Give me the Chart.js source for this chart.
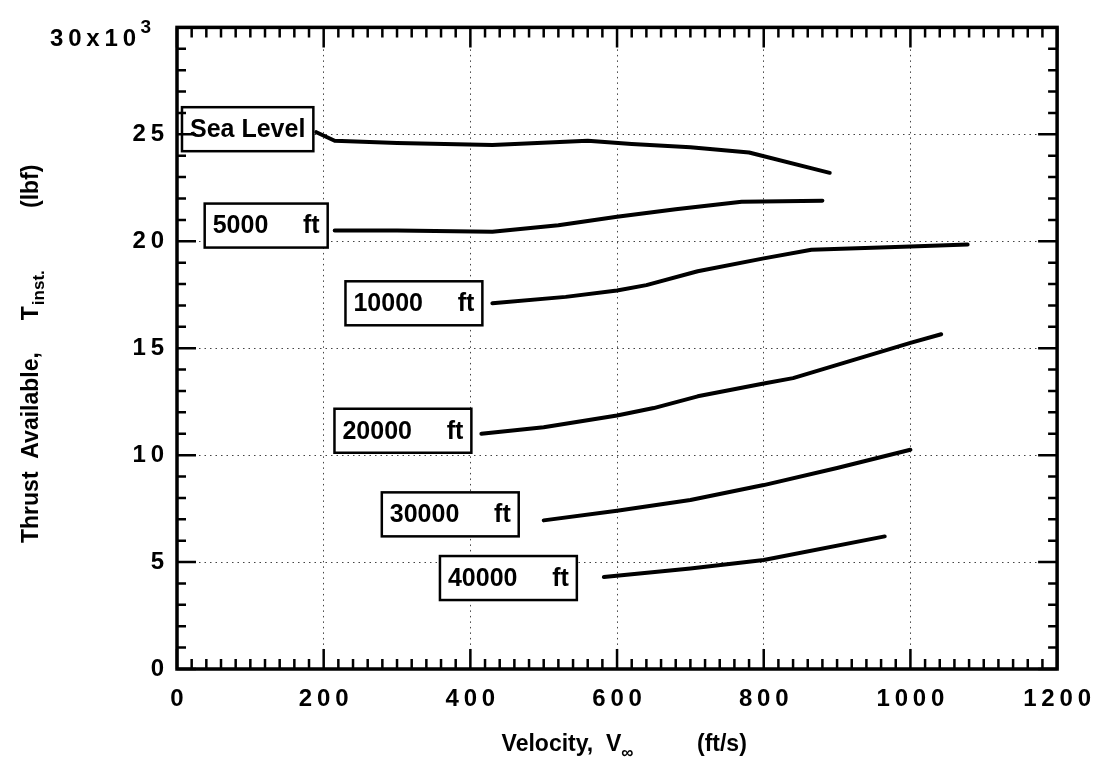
<!DOCTYPE html>
<html>
<head>
<meta charset="utf-8">
<script src="https://cdn.jsdelivr.net/npm/chart.js@4.4.0/dist/chart.umd.min.js"></script>
<style>
  html, body { margin: 0; padding: 0; background: #fff; }
</style>
</head>
<body>
<canvas id="myChart" width="1107" height="772"></canvas>
<script>
const myChartElement = document.getElementById('myChart');

// velocity (ft/s) and thrust (lbf)
const altitudeLabels = ['Sea Level', '5000     ft', '10000     ft', '20000     ft', '30000     ft', '40000     ft'];

const velSeaLevel = [190, 215, 300, 430, 560, 620, 700, 780, 890];
const thrSeaLevel = [25100, 24700, 24600, 24500, 24700, 24550, 24400, 24150, 23200];

const vel5000 = [215, 300, 430, 520, 600, 680, 770, 880];
const thr5000 = [20500, 20500, 20450, 20750, 21150, 21500, 21850, 21900];

const vel10000 = [430, 530, 600, 640, 710, 800, 865, 1000, 1078];
const thr10000 = [17100, 17400, 17700, 17950, 18600, 19200, 19600, 19750, 19850];

const vel20000 = [415, 500, 600, 650, 710, 800, 840, 1000, 1042];
const thr20000 = [11000, 11300, 11850, 12200, 12750, 13350, 13600, 15250, 15650];

const vel30000 = [500, 600, 700, 800, 900, 1000];
const thr30000 = [6950, 7400, 7900, 8600, 9400, 10250];

const vel40000 = [582, 700, 800, 965];
const thr40000 = [4300, 4700, 5100, 6200];

const xTicks = [0, 200, 400, 600, 800, 1000, 1200];
const yTicks = [0, 5000, 10000, 15000, 20000, 25000, 30000];

// label box offset from the start of each curve
const labelGap = [3, 7, 10, 10, 25, 27];
const labelDy = [-3, -5, 0, -3, -6, 1];

const FONT = '"Liberation Sans", Arial, sans-serif';

function toPoints(xs, ys) {
  return xs.map((x, i) => ({ x: x, y: ys[i] }));
}

function spaced(s) {
  return String(s).split('').join('\u2009');
}

const seriesList = [
  toPoints(velSeaLevel, thrSeaLevel),
  toPoints(vel5000, thr5000),
  toPoints(vel10000, thr10000),
  toPoints(vel20000, thr20000),
  toPoints(vel30000, thr30000),
  toPoints(vel40000, thr40000)
];

let myDatasets = seriesList.map((pts, i) => ({
  label: altitudeLabels[i],
  data: pts,
  borderColor: '#000',
  borderWidth: 4,
  borderCapStyle: 'round',
  borderJoinStyle: 'round',
  tension: 0,
  pointRadius: 0,
  fill: false
}));

// boxed altitude labels, placed left of each curve's first point
const boxLabels = {
  id: 'boxLabels',
  afterDatasetsDraw(chart) {
    const ctx = chart.ctx;
    ctx.save();
    ctx.font = 'bold 25px ' + FONT;
    ctx.textBaseline = 'middle';
    chart.data.datasets.forEach((ds, i) => {
      const p = chart.getDatasetMeta(i).data[0];
      const w = ctx.measureText(ds.label).width + 16;
      const h = 44;
      const right = p.x - labelGap[i];
      const cy = p.y + labelDy[i];
      ctx.fillStyle = '#fff';
      ctx.fillRect(right - w, cy - h / 2, w, h);
      ctx.lineWidth = 2.5;
      ctx.strokeStyle = '#000';
      ctx.strokeRect(right - w, cy - h / 2, w, h);
      ctx.fillStyle = '#000';
      ctx.textAlign = 'center';
      ctx.fillText(ds.label, right - w / 2, cy + 1);
    });
    ctx.restore();
  }
};

// frame, inward tick marks on all four sides, and the 30x10^3 label
const frameTicks = {
  id: 'frameTicks',
  afterDraw(chart) {
    const ctx = chart.ctx;
    const a = chart.chartArea;
    const xs = chart.scales.x;
    const ys = chart.scales.y;
    ctx.save();
    ctx.strokeStyle = '#000';
    ctx.lineWidth = 2.5;
    ctx.beginPath();
    for (let v = 0; v <= 1200; v += 20) {
      const px = xs.getPixelForValue(v);
      const len = v % 200 === 0 ? 20 : 10;
      ctx.moveTo(px, a.bottom); ctx.lineTo(px, a.bottom - len);
      ctx.moveTo(px, a.top); ctx.lineTo(px, a.top + len);
    }
    for (let v = 0; v <= 30000; v += 1000) {
      const py = ys.getPixelForValue(v);
      const len = v % 5000 === 0 ? 19 : 9;
      ctx.moveTo(a.left, py); ctx.lineTo(a.left + len, py);
      ctx.moveTo(a.right, py); ctx.lineTo(a.right - len, py);
    }
    ctx.stroke();
    ctx.lineWidth = 3.5;
    ctx.strokeRect(a.left, a.top, a.right - a.left, a.bottom - a.top);

    // top tick label with superscript exponent
    const ty = ys.getPixelForValue(30000);
    ctx.fillStyle = '#000';
    ctx.textBaseline = 'alphabetic';
    ctx.textAlign = 'right';
    ctx.font = 'bold 19px ' + FONT;
    ctx.fillText('3', 151, ty + 6);
    ctx.font = 'bold 24px ' + FONT;
    ctx.fillText(spaced('30x10'), 136, ty + 19);
    ctx.restore();
  }
};

// axis titles with subscripts
const axisTitles = {
  id: 'axisTitles',
  afterDraw(chart) {
    const ctx = chart.ctx;
    const big = 'bold 23px ' + FONT;
    const small = 'bold 17px ' + FONT;
    ctx.save();
    ctx.fillStyle = '#000';
    ctx.textBaseline = 'alphabetic';
    ctx.textAlign = 'left';

    // x title
    ctx.font = big;
    const head = 'Velocity,  ';
    const vx = 606;
    const yb = 751;
    ctx.fillText(head + 'V', vx - ctx.measureText(head).width, yb);
    const vEnd = vx + ctx.measureText('V').width;
    ctx.font = small;
    ctx.fillText('\u221e', vEnd, yb + 7);
    ctx.font = big;
    ctx.fillText('(ft/s)', 697, yb);

    // y title, rotated
    ctx.translate(38, 543);
    ctx.rotate(-Math.PI / 2);
    ctx.font = big;
    const lead = 'Thrust  Available,     T';
    ctx.fillText(lead, 0, 0);
    const t = ctx.measureText(lead).width;
    ctx.font = small;
    ctx.fillText('inst.', t + 1, 6);
    ctx.font = big;
    ctx.fillText('(lbf)', 335, 0);
    ctx.restore();
  }
};

let myOptions = {
  responsive: false,
  animation: false,
  devicePixelRatio: 1,
  layout: { padding: { top: 27, right: 42, left: 0, bottom: 0 } },
  plugins: {
    legend: { display: false },
    tooltip: { enabled: false }
  },
  scales: {
    x: {
      type: 'linear',
      min: 0,
      max: 1200,
      afterBuildTicks: (scale) => { scale.ticks = xTicks.map(v => ({ value: v })); },
      afterFit: (scale) => { scale.height = 103; },
      ticks: {
        color: '#000',
        padding: 16,
        maxRotation: 0,
        font: { family: FONT, size: 24, weight: 'bold' },
        callback: (v) => spaced(v)
      },
      grid: { color: '#444', lineWidth: 1, drawTicks: false },
      border: { display: false, dash: [1.5, 4] }
    },
    y: {
      type: 'linear',
      min: 0,
      max: 30000,
      afterBuildTicks: (scale) => { scale.ticks = yTicks.map(v => ({ value: v })); },
      afterFit: (scale) => { scale.width = 177; },
      ticks: {
        color: '#000',
        padding: 13,
        font: { family: FONT, size: 24, weight: 'bold' },
        callback: (v) => v === 30000 ? '' : spaced(v / 1000)
      },
      grid: { color: '#444', lineWidth: 1, drawTicks: false },
      border: { display: false, dash: [1.5, 4] }
    }
  }
};

let myChart = new Chart(myChartElement, {
  type: 'line',
  data: { datasets: myDatasets },
  options: myOptions,
  plugins: [boxLabels, frameTicks, axisTitles]
});
</script>
</body>
</html>
